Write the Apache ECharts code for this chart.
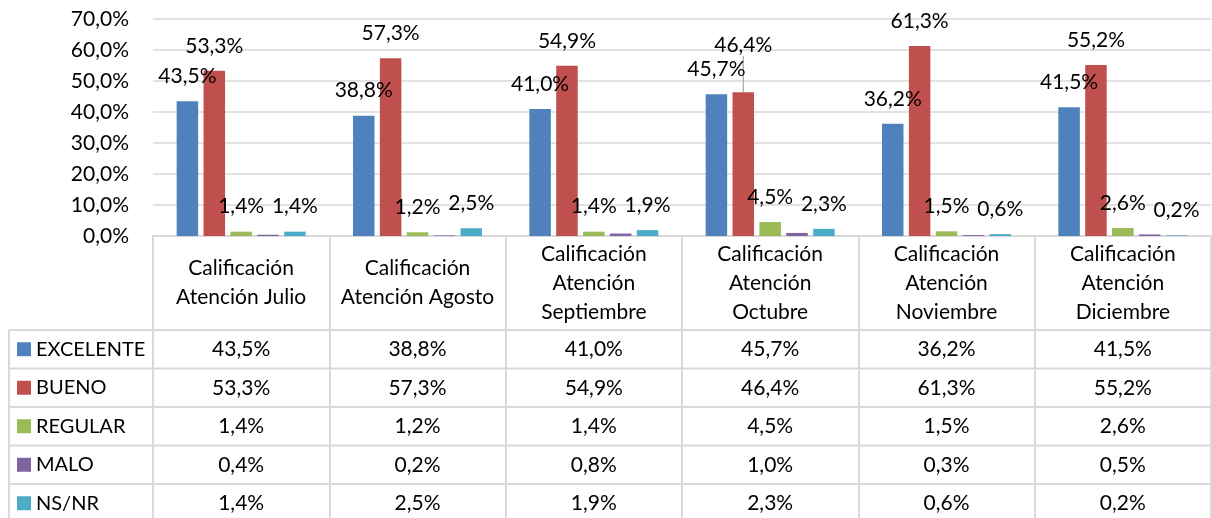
<!DOCTYPE html>
<html>
<head>
<meta charset="utf-8">
<script src="https://cdn.jsdelivr.net/npm/echarts@6/dist/echarts.min.js"></script>
<style>
html,body{margin:0;padding:0;background:#fff;}
#c{width:1212px;height:518px;}
</style>
</head>
<body>
<div id="c"></div>
<script>
// ---- data ----
var categories = [
  'Calificación\nAtención Julio',
  'Calificación\nAtención Agosto',
  'Calificación\nAtención\nSeptiembre',
  'Calificación\nAtención\nOctubre',
  'Calificación\nAtención\nNoviembre',
  'Calificación\nAtención\nDiciembre'
];
var seriesNames = ['EXCELENTE', 'BUENO', 'REGULAR', 'MALO', 'NS/NR'];
var excelente = [43.5, 38.8, 41.0, 45.7, 36.2, 41.5];
var bueno     = [53.3, 57.3, 54.9, 46.4, 61.3, 55.2];
var regular   = [1.4, 1.2, 1.4, 4.5, 1.5, 2.6];
var malo      = [0.4, 0.2, 0.8, 1.0, 0.3, 0.5];
var nsnr      = [1.4, 2.5, 1.9, 2.3, 0.6, 0.2];
var yTicks = [0, 10, 20, 30, 40, 50, 60, 70];

// ---- style / layout ----
var colors = ['#4F81BD', '#C0504D', '#9BBB59', '#8064A2', '#4BACC6'];
var FONT = 'Lato, "Open Sans", sans-serif';
var FS = 21;
var GRID_LEFT = 153, GRID_RIGHT = 1, GRID_TOP = 19, AXIS_Y = 236;
var HEADER_BOTTOM = 330, ROW_H = 38.5, TABLE_LEFT = 9, TABLE_RIGHT = 1211;
var LINE_COLOR = '#d9d9d9';

function fmt(v) { return v.toFixed(1).replace('.', ',') + '%'; }

var allSeries = [excelente, bueno, regular, malo, nsnr];
var showLabels = [true, true, true, false, true];
// label moved up with a leader line (series index, category index)
var movedLabel = {series: 1, index: 3, dy: -22};

var chart = echarts.init(document.getElementById('c'), null, {renderer: 'canvas'});

var xAxes = [{
  type: 'category',
  data: categories,
  gridIndex: 0,
  position: 'bottom',
  axisLine: {show: true, lineStyle: {color: LINE_COLOR, width: 2}},
  axisTick: {show: true, length: 290, lineStyle: {color: LINE_COLOR, width: 2}},
  axisLabel: {
    interval: 0, margin: 47, verticalAlign: 'middle',
    fontFamily: FONT, fontSize: FS, lineHeight: 29, color: '#000'
  }
}];
allSeries.forEach(function (arr, i) {
  var rowBottom = HEADER_BOTTOM + (i + 1) * ROW_H;
  xAxes.push({
    type: 'category',
    data: categories,
    gridIndex: 0,
    position: 'bottom',
    offset: rowBottom - AXIS_Y,
    axisLine: {show: false},
    axisTick: {show: false},
    splitLine: {show: false},
    axisLabel: {
      interval: 0, inside: true, margin: ROW_H / 2, verticalAlign: 'middle',
      fontFamily: FONT, fontSize: FS, color: '#000',
      formatter: (function (a) { return function (val, idx) { return fmt(a[idx]); }; })(arr)
    }
  });
});

var series = allSeries.map(function (arr, i) {
  return {
    name: seriesNames[i],
    type: 'bar',
    xAxisIndex: 0,
    barWidth: 21.5,
    barGap: '25%',
    data: arr.map(function (v, j) {
      if (i === movedLabel.series && j === movedLabel.index) {
        return {value: v, labelLine: {show: true, lineStyle: {color: '#a6a6a6', width: 1.2}}};
      }
      return v;
    }),
    itemStyle: {color: colors[i]},
    label: {
      show: showLabels[i], position: 'top', distance: 15,
      fontFamily: FONT, fontSize: FS, lineHeight: 20, color: '#000',
      formatter: function (p) { return fmt(p.value); }
    },
    labelLine: {show: false},
    labelLayout: function (p) {
      if (p.seriesIndex === movedLabel.series && p.dataIndex === movedLabel.index) return {dy: movedLabel.dy};
      return {};
    }
  };
});

var graphics = [];
for (var r = 0; r <= allSeries.length; r++) {
  var y = HEADER_BOTTOM + r * ROW_H;
  graphics.push({type: 'line', shape: {x1: TABLE_LEFT, y1: y, x2: TABLE_RIGHT, y2: y},
    style: {stroke: LINE_COLOR, lineWidth: 2}, silent: true});
}
graphics.push({type: 'line', shape: {x1: TABLE_LEFT, y1: HEADER_BOTTOM, x2: TABLE_LEFT, y2: HEADER_BOTTOM + allSeries.length * ROW_H},
  style: {stroke: LINE_COLOR, lineWidth: 2}, silent: true});

chart.setOption({
  animation: false,
  backgroundColor: '#fff',
  color: colors,
  textStyle: {fontFamily: FONT},
  grid: {left: GRID_LEFT, right: GRID_RIGHT, top: GRID_TOP, bottom: 518 - AXIS_Y, containLabel: false},
  legend: {
    data: seriesNames,
    orient: 'vertical',
    left: 17,
    top: HEADER_BOTTOM + ROW_H / 2 - 10,
    padding: 0,
    height: 200,
    itemWidth: 14, itemHeight: 14, itemGap: ROW_H - 20,
    icon: 'rect',
    selectedMode: false,
    textStyle: {fontFamily: FONT, fontSize: 20, lineHeight: 20, color: '#000'}
  },
  xAxis: xAxes,
  yAxis: {
    type: 'value', min: yTicks[0], max: yTicks[yTicks.length - 1], interval: 10,
    axisLine: {show: false}, axisTick: {show: false},
    splitLine: {lineStyle: {color: LINE_COLOR, width: 1.5}},
    axisLabel: {margin: 24, fontFamily: FONT, fontSize: FS, color: '#000', formatter: function (v) { return fmt(v); }}
  },
  graphic: graphics,
  series: series
});
</script>
</body>
</html>
